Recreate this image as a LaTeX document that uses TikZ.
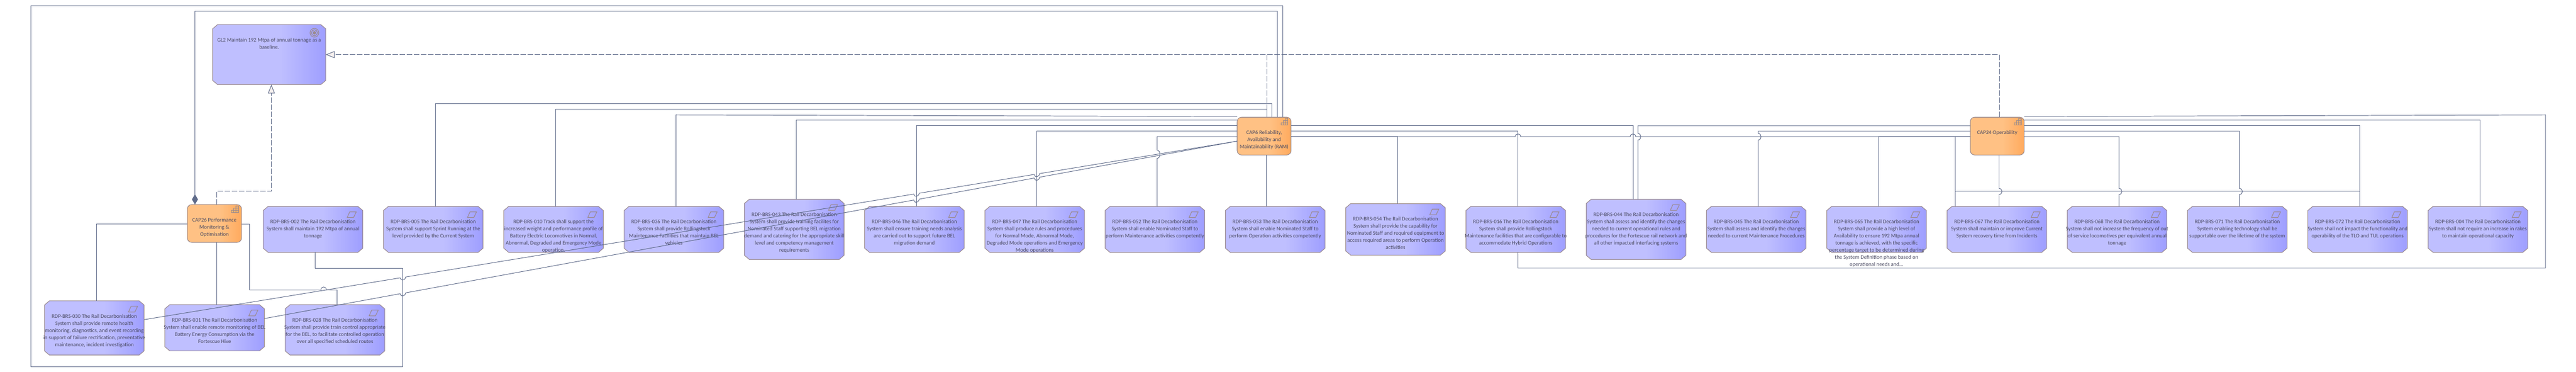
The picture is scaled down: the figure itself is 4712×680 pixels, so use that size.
\documentclass[tikz,border=0pt]{standalone}
\usepackage{fontspec}
\setmainfont{Carlito}
\usetikzlibrary{arrows.meta}

\definecolor{reqlight}{HTML}{BFBFFF}
\definecolor{reqdark}{HTML}{9E9EFF}
\definecolor{caplight}{HTML}{FFC184}
\definecolor{capdark}{HTML}{FFAA5E}
\definecolor{edgecol}{HTML}{9A8A8E}
\definecolor{linecol}{HTML}{5F6B8A}
\definecolor{textcol}{HTML}{4A4A62}
\definecolor{tipfill}{HTML}{F6F0EE}

\pgfdeclarehorizontalshading{reqfade}{100bp}{color(0bp)=(reqlight); color(55bp)=(reqlight); color(75bp)=(reqdark); color(100bp)=(reqdark)}
\pgfdeclarehorizontalshading{capfade}{100bp}{color(0bp)=(caplight); color(55bp)=(caplight); color(75bp)=(capdark); color(100bp)=(capdark)}

% rectangle with cut corners
\makeatletter
\pgfdeclareshape{octbox}{
  \inheritsavedanchors[from=rectangle]
  \inheritanchorborder[from=rectangle]
  \inheritanchor[from=rectangle]{center}
  \inheritanchor[from=rectangle]{north}
  \inheritanchor[from=rectangle]{south}
  \inheritanchor[from=rectangle]{east}
  \inheritanchor[from=rectangle]{west}
  \backgroundpath{
    \southwest \edef\octl{\the\pgf@x}\edef\octb{\the\pgf@y}
    \northeast \edef\octr{\the\pgf@x}\edef\octt{\the\pgf@y}
    \pgfpathmoveto{\pgfpoint{\octl+0.09cm}{\octb}}
    \pgfpathlineto{\pgfpoint{\octr-0.09cm}{\octb}}
    \pgfpathlineto{\pgfpoint{\octr}{\octb+0.076cm}}
    \pgfpathlineto{\pgfpoint{\octr}{\octt-0.076cm}}
    \pgfpathlineto{\pgfpoint{\octr-0.09cm}{\octt}}
    \pgfpathlineto{\pgfpoint{\octl+0.09cm}{\octt}}
    \pgfpathlineto{\pgfpoint{\octl}{\octt-0.076cm}}
    \pgfpathlineto{\pgfpoint{\octl}{\octb+0.076cm}}
    \pgfpathclose
  }
}
\makeatother

% hops over crossing lines
\newcommand{\hopx}[2]{-- (#1-5,#2) .. controls (#1-5,#2-7) and (#1+5,#2-7) .. (#1+5,#2)}
\newcommand{\hopy}[3]{-- (#1,#2-#3) .. controls (#1+7,#2-#3) and (#1+7,#2+#3) .. (#1,#2+#3)}
\newcommand{\hopd}[2]{-- (#1-5,#2+0.8) .. controls (#1-4,#2+7) and (#1+4,#2+6) .. (#1+5,#2-0.8)}

\begin{document}
\begin{tikzpicture}
        [x=0.01cm,y=-0.01cm,
        reqtext/.style={font=\fontsize{2.84}{3.69}\selectfont,text=textcol,align=center,inner sep=0,anchor=north,yshift=-0.24cm},
        req/.style={draw=edgecol,line width=0.3pt,shape=octbox,inner sep=0,outer sep=0,minimum width=1.822cm,shade,shading=reqfade},
        goalbox/.style={req,minimum width=2.067cm,minimum height=1.097cm},
        capbox/.style={draw=edgecol,line width=0.3pt,shape=rectangle,rounded corners=0.08cm,inner sep=0,outer sep=0,minimum height=0.69cm,shade,shading=capfade},
        icon/.style={draw=edgecol,line width=0.3pt},
        link/.style={draw=linecol,line width=0.28pt},
        real/.style={draw=linecol,line width=0.28pt,dash pattern=on 0.1cm off 0.03cm,-{Triangle[length=0.16cm,width=0.125cm,fill=tipfill,line width=0.28pt]}}]

        \useasboundingbox (0,0) rectangle (4712,680);

        \node[goalbox,label={[reqtext]north:{GL2 Maintain 192 Mtpa of annual tonnage as a\\baseline.}}] (gl2) at (492.4,99.85) {};
        \node[capbox,minimum width=0.991cm,label={[reqtext]north:{CAP26 Performance\\Monitoring \&\\Optimisation}}] (cap26) at (392.2,408.5) {};
        \node[capbox,minimum width=0.986cm,label={[reqtext]north:{CAP6 Reliability,\\Availability and\\Maintainability (RAM)}}] (cap6) at (2312.3,248.8) {};
        \node[capbox,minimum width=0.986cm,label={[reqtext]north:{CAP24 Operability}}] (cap24) at (3653.3,248.8) {};

        \node[req,minimum height=0.99cm,label={[reqtext]north:{RDP-BRS-030 The Rail Decarbonisation\\System shall provide remote health\\monitoring, diagnostics, and event recording\\in support of failure rectification, preventative\\maintenance, incident investigation}}] (req030) at (172.5,599.5) {};
        \node[req,minimum height=0.843cm,label={[reqtext]north:{RDP-BRS-031 The Rail Decarbonisation\\System shall enable remote monitoring of BEL\\Battery Energy Consumption via the\\Fortescue Hive}}] (req031) at (392.6,599.15) {};
        \node[req,minimum height=0.92cm,label={[reqtext]north:{RDP-BRS-028 The Rail Decarbonisation\\System shall provide train control appropriate\\for the BEL, to facilitate controlled operation\\over all specified scheduled routes}}] (req028) at (612.7,603) {};
        \node[req,minimum height=0.84cm,label={[reqtext]north:{RDP-BRS-002 The Rail Decarbonisation\\System shall maintain 192 Mtpa of annual\\tonnage}}] (req002) at (572.5,419.3) {};
        \node[req,minimum height=0.84cm,label={[reqtext]north:{RDP-BRS-005 The Rail Decarbonisation\\System shall support Sprint Running at the\\level provided by the Current System}}] (req005) at (792.5,419.3) {};
        \node[req,minimum height=0.84cm,label={[reqtext]north:{RDP-BRS-010 Track shall support the\\increased weight and performance profile of\\Battery Electric Locomotives in Normal,\\Abnormal, Degraded and Emergency Mode\\operation.}}] (req010) at (1012.6,419.3) {};
        \node[req,minimum height=0.84cm,label={[reqtext]north:{RDP-BRS-036 The Rail Decarbonisation\\System shall provide Rollingstock\\Maintenance Facilities that maintain BEL\\vehicles}}] (req036) at (1232.7,419.3) {};
        \node[req,minimum height=1.1cm,label={[reqtext]north:{RDP-BRS-043 The Rail Decarbonisation\\System shall provide training facilites for\\Nominated Staff supporting BEL migration\\demand and catering for the appropriate skill\\level and competency management\\requirements}}] (req043) at (1452.8,419.3) {};
        \node[req,minimum height=0.84cm,label={[reqtext]north:{RDP-BRS-046 The Rail Decarbonisation\\System shall ensure training needs analysis\\are carried out to support future BEL\\migration demand}}] (req046) at (1672.6,419.3) {};
        \node[req,minimum height=0.84cm,label={[reqtext]north:{RDP-BRS-047 The Rail Decarbonisation\\System shall produce rules and procedures\\for Normal Mode, Abnormal Mode,\\Degraded Mode operations and Emergency\\Mode operations}}] (req047) at (1892.7,419.3) {};
        \node[req,minimum height=0.84cm,label={[reqtext]north:{RDP-BRS-052 The Rail Decarbonisation\\System shall enable Nominated Staff to\\perform Maintenance activities competently}}] (req052) at (2112.5,419.3) {};
        \node[req,minimum height=0.84cm,label={[reqtext]north:{RDP-BRS-053 The Rail Decarbonisation\\System shall enable Nominated Staff to\\perform Operation activities competently}}] (req053) at (2332.6,419.3) {};
        \node[req,minimum height=0.94cm,label={[reqtext]north:{RDP-BRS-054 The Rail Decarbonisation\\System shall provide the capability for\\Nominated Staff and required equipment to\\access required areas to perform Operation\\activities}}] (req054) at (2552.7,419.3) {};
        \node[req,minimum height=0.84cm,label={[reqtext]north:{RDP-BRS-016 The Rail Decarbonisation\\System shall provide Rollingstock\\Maintenance facilities that are configurable to\\accommodate Hybrid Operations}}] (req016) at (2772.6,419.3) {};
        \node[req,minimum height=1.1cm,label={[reqtext]north:{RDP-BRS-044 The Rail Decarbonisation\\System shall assess and identify the changes\\needed to current operational rules and\\procedures for the Fortescue rail network and\\all other impacted interfacing systems}}] (req044) at (2992.7,419.3) {};
        \node[req,minimum height=0.84cm,label={[reqtext]north:{RDP-BRS-045 The Rail Decarbonisation\\System shall assess and identify the changes\\needed to current Maintenance Procedures}}] (req045) at (3212.5,419.3) {};
        \node[req,minimum height=0.84cm,label={[reqtext]north:{RDP-BRS-065 The Rail Decarbonisation\\System shall provide a high level of\\Availability to ensure 192 Mtpa annual\\tonnage is achieved, with the specific\\percentage target to be determined during\\the System Definition phase based on\\operational needs and...}}] (req065) at (3432.6,419.3) {};
        \node[req,minimum height=0.84cm,label={[reqtext]north:{RDP-BRS-067 The Rail Decarbonisation\\System shall maintain or improve Current\\System recovery time from Incidents}}] (req067) at (3652.7,419.3) {};
        \node[req,minimum height=0.84cm,label={[reqtext]north:{RDP-BRS-068 The Rail Decarbonisation\\System shall not increase the frequency of out\\of service locomotives per equivalent annual\\tonnage}}] (req068) at (3872.5,419.3) {};
        \node[req,minimum height=0.84cm,label={[reqtext]north:{RDP-BRS-071 The Rail Decarbonisation\\System enabling technology shall be\\supportable over the lifetime of the system}}] (req071) at (4092.4,419.3) {};
        \node[req,minimum height=0.84cm,label={[reqtext]north:{RDP-BRS-072 The Rail Decarbonisation\\System shall not impact the functionality and\\operability of the TLO and TUL operations}}] (req072) at (4312.5,419.3) {};
        \node[req,minimum height=0.84cm,label={[reqtext]north:{RDP-BRS-004 The Rail Decarbonisation\\System shall not require an increase in rakes\\to maintain operational capacity}}] (req004) at (4532.6,419.3) {};

        % icons
        \foreach \n in {req030,req031,req028,req002,req005,req010,req036,req043,req046,req047,req052,req053,req054,req016,req044,req045,req065,req067,req068,req071,req072,req004}
          \draw[icon,shift={(\n.east |- \n.north)}] (-24,10) -- (-12,10) -- (-17,20.4) -- (-28.6,20.4) -- cycle;
        \foreach \n in {cap26,cap6,cap24}
          \draw[icon,shift={(\n.east |- \n.north)}] (-18.3,14.3) -- (-5.7,14.3) -- (-5.7,2.7) -- (-9.9,2.7) -- (-9.9,14.3) (-14.1,14.3) -- (-14.1,6.6) -- (-5.7,6.6) (-18.3,14.3) -- (-18.3,10.4) -- (-5.7,10.4);
        \draw[icon,shift={(gl2.east |- gl2.north)}] (-20.7,15) circle[radius=8] (-20.7,15) circle[radius=5.5];
        \fill[edgecol,shift={(gl2.east |- gl2.north)}] (-20.7,15) circle[radius=3];

        % realisations up to the goal
        \draw[real] (396.4,0 |- cap26.north) |- (496.4,350) -- (496.4,0 |- gl2.south);
        \draw[real,-] (2317,0 |- cap6.north) -- (2317,0 |- gl2.east);
        \draw[real] (3657,0 |- cap24.north) |- (gl2.east);

        % CAP26
        \draw[link,{Diamond[length=0.19cm,width=0.11cm]}-] (356.6,0 |- cap26.north) |- (2336,20.3) -- (2336,0 |- cap6.north);
        \draw[link] (cap26.west |- 0,410) -| (176.5,0 |- req030.north);
        \draw[link] (396.6,0 |- cap26.south) -- (396.6,0 |- req031.north);
        \draw[link] (cap26.east |- 0,410) -- (456.4,410) -- (456.4,530) \hopx{592}{530} -- (616.7,530) -- (616.7,0 |- req028.north);

        % CAP6
        \draw[link] (576.5,0 |- req002.south) |- (736.5,490) -- (736.5,670) -- (56,670) -- (56,10.3) -- (2346.7,10.3) -- (2346.7,0 |- cap6.north);
        \draw[link] (796.5,0 |- req005.north) |- (2326.6,190) -- (2326.6,0 |- cap6.north);
        \draw[link] (1016.6,0 |- req010.north) |- (2317,200) -- (2317,0 |- cap6.north);
        \draw[link] (1236.7,0 |- req036.north) -- (1236.7,210) -- (cap6.west |- 0,213);
        \draw[link] (1456.5,0 |- req043.north) |- (cap6.west |- 0,220);
        \draw[link] (1676.4,0 |- req046.north) |- (cap6.west |- 0,230);
        \draw[link] (1896.7,0 |- req047.north) |- (cap6.west |- 0,240);
        \draw[link] (cap6.west |- 0,250) -- (2116.5,250) \hopy{2116.5}{282}{7.5} -- (2116.5,0 |- req052.north);
        \draw[link] (2316.5,0 |- cap6.south) -- (2316.5,0 |- req053.north);
        \draw[link] (cap6.east |- 0,230) -- (2987,230) -- (2987,0 |- req044.north);
        \draw[link] (cap6.east |- 0,240) -| (2776.6,0 |- req016.north);
        \draw[link] (cap6.east |- 0,250) -| (2556.7,0 |- req054.north);
        \draw[link] (cap6.east |- 0,250) \hopx{2776.6}{250} \hopx{2987}{250} -- (cap24.west |- 0,250);
        \draw[link] (req030.east |- 0,584.3) \hopd{737}{507.1} \hopd{1676.4}{354} \hopd{1896.7}{318.1} -- (cap6.west |- 0,258);
        \draw[link] (req031.east |- 0,582.3) \hopd{737}{536.1} \hopd{1676.4}{364.9} \hopd{1896.7}{324.7} -- (cap6.west |- 0,258);

        % CAP24
        \draw[link] (cap24.west |- 0,230) -- (2996,230) \hopy{2996}{250}{6} -- (2996,0 |- req044.north);
        \draw[link] (cap24.west |- 0,240) -- (3216,240) \hopy{3216}{250}{6} -- (3216,0 |- req045.north);
        \draw[link] (cap24.west |- 0,250) -| (3436.6,0 |- req065.north);
        \draw[link] (cap24.west |- 0,250) -| (3576,0 |- req067.north);
        \draw[link] (3576,0 |- cap24.west) ++(0,1.2) -- (3576,350) -- (4316.5,350) -- (4316.5,0 |- req072.north);
        \draw[link] (3656.7,0 |- cap24.south) \hopy{3656.7}{350}{5.5} -- (3656.7,0 |- req067.north);
        \draw[link] (cap24.east |- 0,250) -- (3876,250) \hopy{3876}{350}{5.5} -- (3876,0 |- req068.north);
        \draw[link] (cap24.east |- 0,240) -- (4096.4,240) \hopy{4096.4}{350}{5.5} -- (4096.4,0 |- req071.north);
        \draw[link] (cap24.east |- 0,230) -| (4316.5,0 |- req072.north);
        \draw[link] (cap24.east |- 0,220) -| (4536.6,0 |- req004.north);
        \draw[link] (2776.6,0 |- req016.south) |- (4656,490) -- (4656,210) -- (cap24.east |- 0,213);

      \end{tikzpicture}
\end{document}
